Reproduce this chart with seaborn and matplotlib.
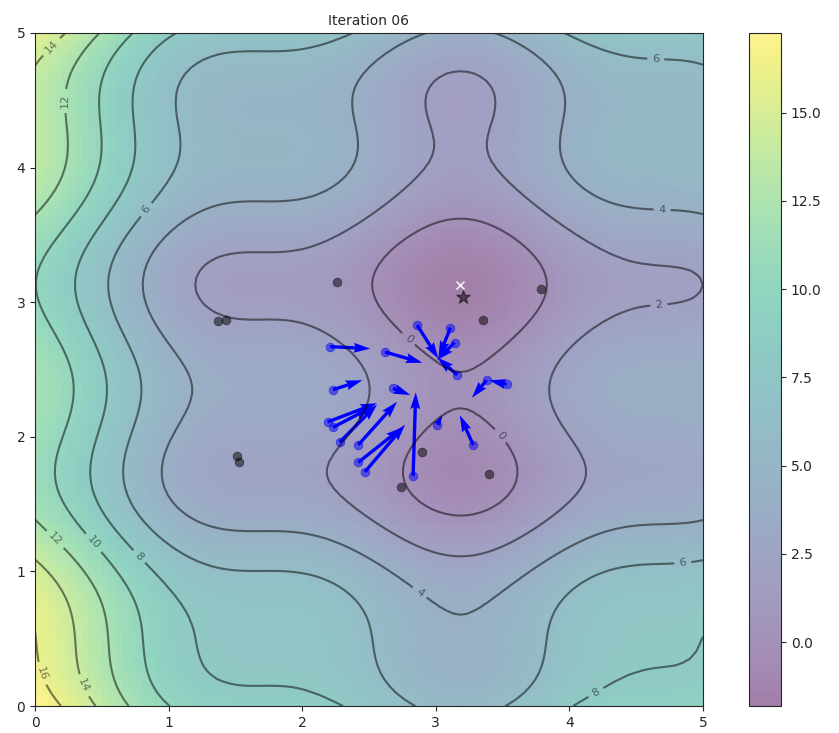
import numpy as np
import pandas as pd
import matplotlib
matplotlib.use("Agg")
import matplotlib.pyplot as plt
import seaborn as sns

# particle positions (current) and their velocities at iteration 6
px = [2.21, 2.62, 2.23, 2.68, 2.86, 3.11, 3.14, 3.16, 3.38, 3.53,
      2.19, 2.23, 2.28, 2.42, 2.42, 2.47, 2.83, 3.01, 3.28]
py = [2.67, 2.63, 2.35, 2.36, 2.83, 2.81, 2.70, 2.46, 2.42, 2.39,
      2.11, 2.07, 1.96, 1.94, 1.81, 1.74, 1.71, 2.09, 1.94]
vx = [0.30, 0.28, 0.22, 0.13, 0.16, -0.09, -0.13, -0.15, -0.11, -0.13,
      0.37, 0.29, 0.28, 0.29, 0.33, 0.30, 0.02, 0.04, -0.10]
vy = [-0.015, -0.08, 0.07, -0.05, -0.25, -0.22, -0.13, 0.13, -0.13, 0.03,
      0.14, 0.15, 0.28, 0.32, 0.26, 0.35, 0.62, 0.07, 0.22]

# personal bests that are visible (black)
pbest_x = [2.26, 1.37, 1.43, 3.79, 3.35, 1.51, 1.53, 2.90, 2.74, 3.40]
pbest_y = [3.15, 2.86, 2.87, 3.10, 2.87, 1.86, 1.81, 1.89, 1.63, 1.72]

gbest = (3.20, 3.04)
true_min = (3.18, 3.13)


def objective(x, y):
    return (x - 3.14) ** 2 + (y - 2.72) ** 2 + np.sin(3 * x + 1.41) + np.sin(4 * y - 1.73)


sns.set_style("ticks")

grid = np.linspace(0, 5, 100)
gx, gy = np.meshgrid(grid, grid)
gz = objective(gx, gy)

fig = plt.figure(figsize=(8.39, 7.33), dpi=100)
ax = fig.add_axes([35 / 839, 27 / 733, 668 / 839, 673 / 733])
cax = fig.add_axes([749 / 839, 27 / 733, 32 / 839, 673 / 733])

img = ax.imshow(gz, extent=[0, 5, 0, 5], origin="lower", cmap="viridis", alpha=0.5, aspect="auto")
fig.colorbar(img, cax=cax)
ax.plot([true_min[0]], [true_min[1]], marker="x", markersize=6, color="white")
contours = ax.contour(gx, gy, gz, 10, colors="black", alpha=0.5)
ax.clabel(contours, inline=True, fontsize=8, fmt="%.0f")

pb = pd.DataFrame({"x": pbest_x, "y": pbest_y})
sns.scatterplot(data=pb, x="x", y="y", color="black", alpha=0.5, s=40, edgecolor=None, ax=ax)
cur = pd.DataFrame({"x": px, "y": py})
sns.scatterplot(data=cur, x="x", y="y", color="blue", alpha=0.5, s=40, edgecolor=None, ax=ax)
ax.quiver(px, py, vx, vy, color="blue", width=0.005, angles="xy", scale_units="xy", scale=1)
ax.scatter([gbest[0]], [gbest[1]], marker="*", s=100, color="black", alpha=0.5)

ax.set_xlim(0, 5)
ax.set_ylim(0, 5)
ax.set_xlabel("")
ax.set_ylabel("")
ax.set_title("Iteration 06", fontsize=10)
ax.tick_params(labelsize=10)
cax.tick_params(labelsize=10)

fig.savefig("out.png", dpi=100)
